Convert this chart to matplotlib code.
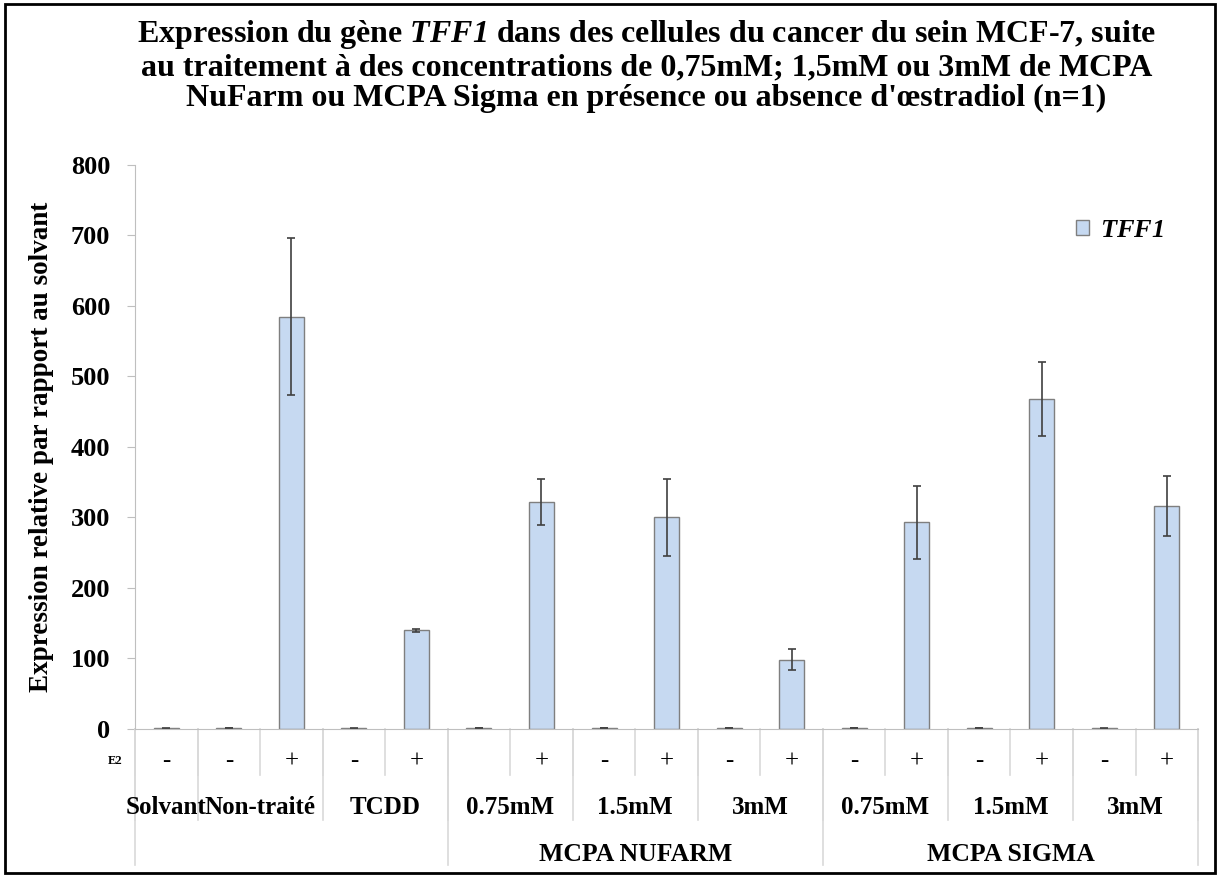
import numpy as np
import matplotlib
matplotlib.use("Agg")
import matplotlib.pyplot as plt
from matplotlib.patches import Rectangle
import matplotlib.transforms as mtransforms

plt.rcParams["font.family"] = ["Liberation Serif", "DejaVu Serif"]
plt.rcParams["mathtext.fontset"] = "custom"
plt.rcParams["mathtext.it"] = "Liberation Serif:italic:bold"
plt.rcParams["mathtext.rm"] = "Liberation Serif:italic:bold"

# data
e2_labels = ["-", "-", "+", "-", "+", "", "+", "-", "+", "-", "+", "-", "+", "-", "+", "-", "+"]
values = [1, 1, 585, 1, 140, 1, 322, 1, 300, 1, 98, 1, 293, 1, 468, 1, 316]
errors = [1, 0, 112, 1, 2, 0, 33, 0, 55, 0, 15, 0, 52, 0, 53, 1, 43]
group_labels = ["Solvant", "Non-traité", "TCDD", "0.75mM", "1.5mM", "3mM",
                "0.75mM", "1.5mM", "3mM"]
group_sizes = [1, 2, 2, 2, 2, 2, 2, 2, 2]
super_labels = ["", "MCPA NUFARM", "MCPA SIGMA"]
super_sizes = [5, 6, 6]
yticks = [0, 100, 200, 300, 400, 500, 600, 700, 800]

bar_color = "#c6d9f1"
sep_color = "#d9d9d9"

fig = plt.figure(figsize=(12.2, 8.77), dpi=100)
ax = fig.add_axes([0.1107, 0.1688, 0.8713, 0.6431])

x = np.arange(len(values))
ax.bar(x, values, width=0.4, color=bar_color, edgecolor="#7f7f7f", linewidth=1,
       yerr=errors, error_kw=dict(ecolor="#404040", elinewidth=1.2, capsize=3, capthick=1.2),
       label=r"$TFF1$", zorder=2)

ax.set_xlim(-0.5, len(values) - 0.5)
ax.set_ylim(0, 800)
ax.set_yticks(yticks)
ax.set_yticklabels([str(v) for v in yticks], fontsize=19, fontweight="bold")
ax.tick_params(axis="y", length=6, color="#bfbfbf", pad=12)
ax.set_xticks([])
for s in ["top", "right"]:
    ax.spines[s].set_visible(False)
ax.spines["left"].set_color("#bfbfbf")
ax.spines["bottom"].set_color("#bfbfbf")

ax.set_ylabel("Expression relative par rapport au solvant", fontsize=19.5,
              fontweight="bold", labelpad=12)

# multi-level category axis
trans = mtransforms.blended_transform_factory(ax.transData, ax.transAxes)
row1, row2, row3 = 0.0816, 0.161, 0.241

for i, lab in enumerate(e2_labels):
    ax.text(i, -0.057, lab, transform=trans, ha="center", va="center", fontsize=18)
for b in np.arange(-0.5, len(values)):
    ax.plot([b, b], [0, -row1], transform=trans, color=sep_color, lw=1.2, clip_on=False)

pos = -0.5
for lab, n in zip(group_labels, group_sizes):
    ax.text(pos + n / 2, -0.140, lab, transform=trans, ha="center", va="center",
            fontsize=18, fontweight="bold")
    ax.plot([pos, pos], [0, -row2], transform=trans, color=sep_color, lw=1.2, clip_on=False)
    pos += n
ax.plot([pos, pos], [0, -row2], transform=trans, color=sep_color, lw=1.2, clip_on=False)

pos = -0.5
for lab, n in zip(super_labels, super_sizes):
    ax.text(pos + n / 2, -0.223, lab, transform=trans, ha="center", va="center",
            fontsize=18.5, fontweight="bold")
    ax.plot([pos, pos], [0, -row3], transform=trans, color=sep_color, lw=1.2, clip_on=False)
    pos += n
ax.plot([pos, pos], [0, -row3], transform=trans, color=sep_color, lw=1.2, clip_on=False)

ax.text(-0.012, -0.057, "E2", transform=ax.transAxes, ha="right", va="center",
        fontsize=9, fontweight="bold")

leg = ax.legend(loc="upper right", bbox_to_anchor=(0.99, 0.944), frameon=False,
                fontsize=19, handlelength=0.5, handleheight=0.5, handletextpad=0.4)

fig.text(0.53, 0.979,
         "Expression du gène $TFF1$ dans des cellules du cancer du sein MCF-7, suite\n"
         "au traitement à des concentrations de 0,75mM; 1,5mM ou 3mM de MCPA\n"
         "NuFarm ou MCPA Sigma en présence ou absence d'œstradiol (n=1)",
         ha="center", va="top", fontsize=23, fontweight="bold", linespacing=1.07)

fig.patches.append(Rectangle((0.004, 0.005), 0.992, 0.99, transform=fig.transFigure,
                             fill=False, edgecolor="black", linewidth=2))

fig.savefig("out.png", dpi=100)
